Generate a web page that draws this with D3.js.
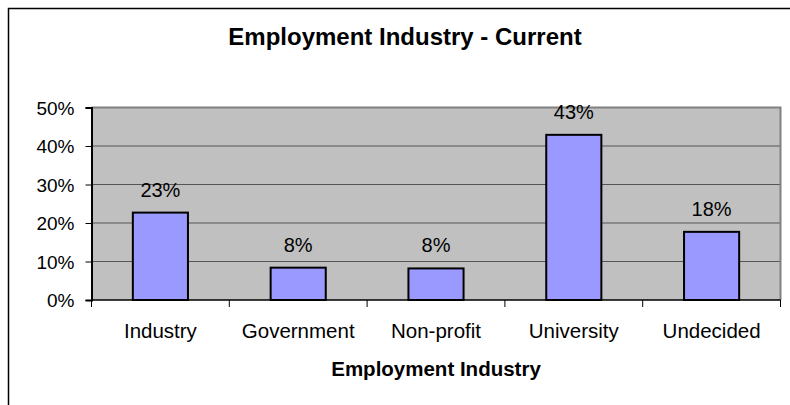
<!DOCTYPE html>
<html>
<head>
<meta charset="UTF-8">
<title>Employment Industry - Current</title>
<script src="https://d3js.org/d3.v7.min.js"></script>
<style type="text/css">
    body { margin: 0; background: #fff; font-family: Arial, "Liberation Sans", sans-serif; }
    svg { display: block; }
    .axis text { font-size: 19px; fill: #000; }
    .axis .cat { font-size: 20.5px; }
    .grid line { stroke: #555; stroke-width: 1; }
    .label { font-size: 20px; text-anchor: middle; }
</style>
</head>
<body>
<script type="text/javascript">
// chart data
const categories = ['Industry', 'Government', 'Non-profit', 'University', 'Undecided'];
const shares = [0.227, 0.084, 0.082, 0.429, 0.177];
const shareLabels = ['23%', '8%', '8%', '43%', '18%'];
const yTicks = [0, 0.1, 0.2, 0.3, 0.4, 0.5];

const W = 790, H = 405;
const margin = { top: 107.5, right: 9.5, bottom: 105, left: 91.5 };
const width = W - margin.left - margin.right;
const height = H - margin.top - margin.bottom;

const svg = d3.select('body').append('svg')
    .attr('width', W)
    .attr('height', H);

// outer chart frame (only the top and left edges are on screen)
svg.append('rect')
    .attr('x', 8.5).attr('y', 8.5)
    .attr('width', 820).attr('height', 420)
    .attr('fill', 'none')
    .attr('stroke', '#000')
    .attr('stroke-width', 1.5);

svg.append('text')
    .attr('x', 405)
    .attr('y', 45)
    .attr('text-anchor', 'middle')
    .style('font-size', '24px')
    .style('font-weight', 'bold')
    .text('Employment Industry - Current');

const g = svg.append('g')
    .attr('transform', 'translate(' + margin.left + ',' + margin.top + ')');

const x = d3.scaleBand().domain(categories).range([0, width]).padding(0);
const y = d3.scaleLinear().domain([0, 0.5]).range([height, 0]);

// plot area
g.append('rect')
    .attr('width', width)
    .attr('height', height)
    .attr('fill', '#c0c0c0');

// gridlines
g.append('g')
    .attr('class', 'grid')
    .selectAll('line')
    .data(yTicks.slice(1, -1))
    .join('line')
    .attr('x1', 0).attr('x2', width)
    .attr('y1', d => y(d)).attr('y2', d => y(d));

// plot border (top and right)
g.append('path')
    .attr('d', 'M0,' + y(0.5) + 'H' + width + 'V' + height)
    .attr('fill', 'none')
    .attr('stroke', '#808080')
    .attr('stroke-width', 2);

// bars
const barW = x.bandwidth() * 0.4;
g.selectAll('.bar')
    .data(shares)
    .join('rect')
    .attr('class', 'bar')
    .attr('x', (d, i) => x(categories[i]) + (x.bandwidth() - barW) / 2)
    .attr('y', d => y(d))
    .attr('width', barW)
    .attr('height', d => height - y(d))
    .attr('fill', '#9999ff')
    .attr('stroke', '#000')
    .attr('stroke-width', 2);

// value labels
g.selectAll('.label')
    .data(shares)
    .join('text')
    .attr('class', 'label')
    .attr('x', (d, i) => x(categories[i]) + x.bandwidth() / 2)
    .attr('y', d => y(d) - 16)
    .text((d, i) => shareLabels[i]);

// y axis
const yAxis = d3.axisLeft(y)
    .tickValues(yTicks)
    .tickSize(6)
    .tickPadding(11)
    .tickFormat(d3.format('.0%'));
g.append('g')
    .attr('class', 'axis')
    .call(yAxis)
    .call(a => a.select('.domain').attr('stroke', '#000').attr('stroke-width', 2))
    .call(a => a.selectAll('text').attr('dy', '0.36em'));

// x axis with ticks between categories
const xAxisG = g.append('g')
    .attr('class', 'axis')
    .attr('transform', 'translate(0,' + height + ')');
xAxisG.append('line')
    .attr('x1', 0).attr('x2', width)
    .attr('stroke', '#000').attr('stroke-width', 1.5);
xAxisG.selectAll('.tick-mark')
    .data(categories.concat(['end']))
    .join('line')
    .attr('class', 'tick-mark')
    .attr('x1', (d, i) => i * x.step()).attr('x2', (d, i) => i * x.step())
    .attr('y1', 0).attr('y2', 7)
    .attr('stroke', '#000');
xAxisG.selectAll('.cat')
    .data(categories)
    .join('text')
    .attr('class', 'cat')
    .attr('x', d => x(d) + x.bandwidth() / 2)
    .attr('y', 37.5)
    .attr('text-anchor', 'middle')
    .text(d => d);

svg.append('text')
    .attr('x', margin.left + width / 2)
    .attr('y', 376)
    .attr('text-anchor', 'middle')
    .style('font-size', '20.5px')
    .style('font-weight', 'bold')
    .text('Employment Industry');
</script>
</body>
</html>
